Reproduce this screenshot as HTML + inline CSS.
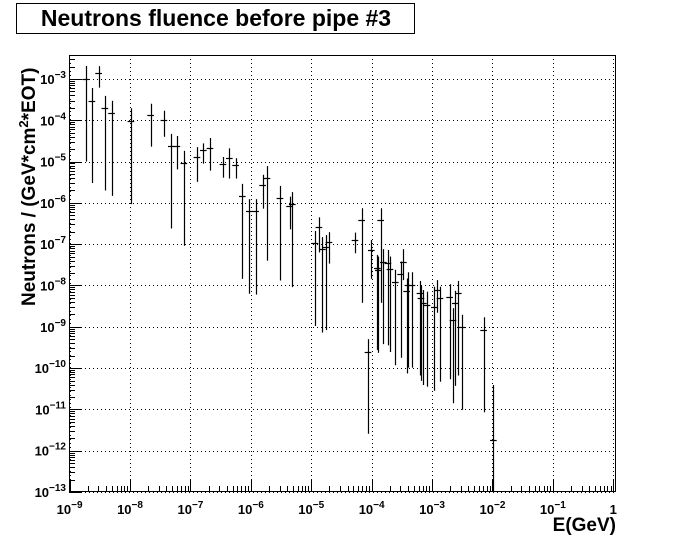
<!DOCTYPE html>
<html><head><meta charset="utf-8"><style>
html,body{margin:0;padding:0;background:#fff;}
svg{display:block;font-family:"Liberation Sans",Arial,sans-serif;}
</style></head><body>
<svg id="c" width="685" height="547" viewBox="0 0 685 547">
<rect x="0" y="0" width="685" height="547" fill="#fff"/>
<g>
<rect x="16.5" y="3.5" width="398" height="30" fill="#fff" stroke="#000" stroke-width="1"/>
<text x="216" y="26" text-anchor="middle" font-size="23" font-weight="bold">Neutrons fluence before pipe #3</text>
</g>
<g id="grid"></g>
<g id="axes"></g>
<g id="marks"></g>
<text x="616" y="531" text-anchor="end" font-size="19" font-weight="bold">E(GeV)</text>
<text transform="translate(35,306) rotate(-90)" text-anchor="start" font-size="19" font-weight="bold">Neutrons / (GeV*cm<tspan font-size="13" dy="-7">2</tspan><tspan dy="7">*EOT)</tspan></text>
</svg>
<script>
// log10(E) bin centres
const logE = [-8.735,-8.631,-8.52,-8.416,-8.305,-7.985,-7.659,-7.439,-7.316,-7.224,-7.108,-6.892,-6.786,-6.677,-6.462,-6.356,-6.252,-6.141,-6.025,-5.921,-5.805,-5.733,-5.518,-5.358,-5.313,
-4.939,-4.873,-4.816,-4.762,-4.707,-4.276,-4.166,-4.061,-4.005,-3.906,-3.889,-3.851,-3.806,-3.730,-3.697,-3.608,-3.520,-3.475,-3.421,-3.399,-3.333,-3.200,-3.184,-3.144,-3.084,-2.962,-2.912,-2.869,-2.709,-2.654,-2.614,-2.565,-2.505,-2.146,-1.985];
// log10 fluence values
const logF = [-3.01,-3.53,-2.86,-3.71,-3.82,-4.02,-3.87,-4.00,-4.62,-4.62,-5.04,-4.89,-4.72,-4.68,-5.05,-4.92,-5.09,-5.83,-6.20,-6.20,-5.57,-5.40,-5.88,-6.07,-6.03,
-6.98,-6.59,-7.12,-7.08,-6.95,-6.91,-6.41,-9.60,-7.14,-7.57,-7.62,-6.41,-7.43,-7.45,-7.61,-7.91,-7.73,-7.43,-8.13,-7.99,-8.00,-8.19,-8.31,-8.43,-8.47,-8.53,-8.11,-8.31,-8.29,-8.84,-8.43,-8.19,-9.00,-9.08,-11.74];
// log10 of upper error end
const logHi = [-2.685,-3.22,-2.69,-3.41,-3.53,-3.71,-3.60,-3.77,-4.33,-4.38,-4.74,-4.65,-4.56,-4.43,-4.89,-4.68,-4.92,-5.54,-5.91,-5.91,-5.32,-5.11,-5.59,-5.85,-5.74,
-6.68,-6.35,-6.83,-6.78,-6.71,-6.72,-6.13,-9.30,-6.90,-7.26,-7.30,-6.13,-7.12,-7.14,-7.30,-7.62,-7.42,-7.12,-7.83,-7.68,-7.68,-7.89,-8.01,-8.11,-8.15,-8.03,-7.87,-8.03,-7.97,-8.55,-8.13,-7.89,-8.71,-8.77,-10.41];
// log10 of lower error end
const logLo = [-5.00,-5.52,-3.21,-5.70,-5.83,-6.03,-4.64,-4.40,-6.62,-5.19,-7.04,-5.49,-5.05,-5.22,-5.39,-5.41,-5.41,-7.84,-8.20,-8.22,-6.14,-7.40,-7.88,-6.64,-8.04,
-8.98,-7.20,-9.14,-9.08,-7.47,-7.22,-8.42,-11.59,-7.84,-9.56,-9.63,-8.42,-9.42,-9.45,-9.61,-9.93,-9.75,-7.87,-10.13,-9.99,-9.99,-10.18,-10.31,-10.41,-10.45,-10.55,-8.66,-10.33,-10.27,-10.85,-10.43,-10.18,-11.01,-11.07,-13.0];
const xTicks = [-9,-8,-7,-6,-5,-4,-3,-2,-1,0];
const yTicks = [-13,-12,-11,-10,-9,-8,-7,-6,-5,-4,-3];

const X0=69, X1=616, Y0=55, Y1=492;
const xMin=-9.01, xMax=0.045, yMin=-13, yMax=-2.42;
const xs = v => X0 + (v - xMin) / (xMax - xMin) * (X1 - X0);
const ys = v => Y1 - (v - yMin) / (yMax - yMin) * (Y1 - Y0);
const NS='http://www.w3.org/2000/svg';
function mk(tag, attrs, parent){const e=document.createElementNS(NS,tag);for(const k in attrs)e.setAttribute(k,attrs[k]);parent.appendChild(e);return e;}
const grid=document.getElementById('grid'), axes=document.getElementById('axes'), marks=document.getElementById('marks');

const fr=mk('rect',{x:X0+0.5,y:Y0+0.5,width:X1-X0-1,height:Y1-Y0-1,fill:'none',stroke:'#000','stroke-width':1},axes);



xTicks.forEach(t=>{
  const x=Math.round(xs(t))+0.5;
  const g=mk('line',{x1:x,y1:Y0,x2:x,y2:Y1,stroke:'#000','stroke-dasharray':'1,3','stroke-width':1},grid);
  
  
  const tk=mk('line',{x1:x,y1:Y1,x2:x,y2:Y1-13,stroke:'#000'},axes);
  
  
  const lb=mk('text',{x:xs(t),y:514,'text-anchor':'middle','font-size':13,'font-weight':'bold'},axes);
  
  
  if(t===0){lb.textContent='1';}
  else{lb.textContent='10';const s=mk('tspan',{dy:-6,'font-size':10},lb);s.textContent=String(t).replace('-','\u2212');}
  if(t<0){for(let m=2;m<=9;m++){const xm=Math.round(xs(t+Math.log10(m)))+0.5;
    const mt=mk('line',{x1:xm,y1:Y1,x2:xm,y2:Y1-6,stroke:'#000'},axes);
    
    }}
});
yTicks.forEach(t=>{
  const y=Math.round(ys(t))+0.5;
  const g=mk('line',{x1:X0,y1:y,x2:X1,y2:y,stroke:'#000','stroke-dasharray':'1,3','stroke-width':1},grid);
  
  
  const tk=mk('line',{x1:X0,y1:y,x2:X0+13,y2:y,stroke:'#000'},axes);
  
  
  const lb=mk('text',{x:X0-3,y:ys(t)+5,'text-anchor':'end','font-size':13,'font-weight':'bold'},axes);
  
  
  lb.textContent='10';
  const s=mk('tspan',{dy:-6,'font-size':10},lb);s.textContent=String(t).replace('-','\u2212');
  for(let m=2;m<=9;m++){const v=t+Math.log10(m); if(v>yMax)break; const ym=Math.round(ys(v))+0.5;
    const mt=mk('line',{x1:X0,y1:ym,x2:X0+6,y2:ym,stroke:'#000'},axes);
    
    }
});
const hw=0.055;
logE.forEach((e,i)=>{
  const x=Math.round(xs(e))+0.5;
  const yHi=Math.max(ys(logHi[i]),Y0), yLo=Math.min(ys(logLo[i]),Y1), y=Math.round(ys(logF[i]))+0.5;
  const v=mk('line',{x1:x,y1:yHi,x2:x,y2:yLo,stroke:'#000','stroke-width':1.2},marks);
  
  
  const h=mk('line',{x1:xs(e-hw),y1:y,x2:xs(e+hw),y2:y,stroke:'#000','stroke-width':1.2},marks);
  
  
});
</script>
</body></html>
